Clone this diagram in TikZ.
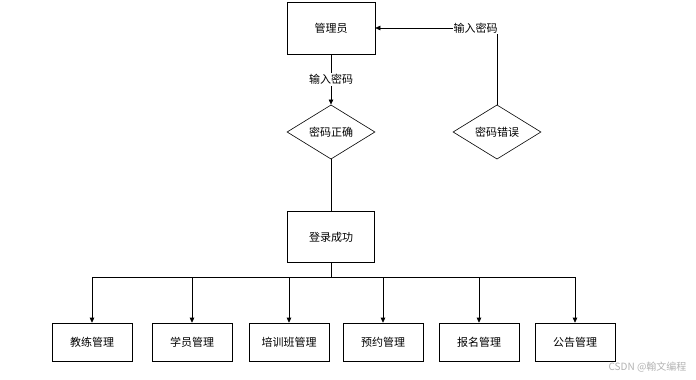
\documentclass[tikz,border=0pt]{standalone}
\usepackage{fontspec}
\newfontfamily\cjk{Noto Sans CJK SC}
\usetikzlibrary{shapes.geometric,arrows.meta,positioning}

\begin{document}
\begin{tikzpicture}[x=1pt, y=-1pt,
    font=\cjk\fontsize{11}{13}\selectfont,
    block/.style={rectangle, draw, line width=0.6pt, minimum width=88pt, minimum height=52pt},
    item/.style={rectangle, draw, line width=0.6pt, minimum width=80pt, minimum height=38pt},
    check/.style={diamond, draw, line width=0.6pt, inner sep=0pt, minimum width=88pt, minimum height=50pt},
    arrow/.style={-{Triangle[length=5pt, width=4.5pt]}, line width=0.6pt},
    lbl/.style={fill=white, inner sep=1pt}
]
\useasboundingbox (0,0) rectangle (696,380);

% login flow
\node[block] (admin) at (331,28) {管理员};
\node[check] (ok) at (331,132) {密码正确};
\node[check] (err) at (497,132) {密码错误};
\node[block, minimum width=87pt, minimum height=51pt] (login) at (331,237) {登录成功};

\draw[arrow] (admin) -- (ok) node[midway, lbl]{输入密码};
\draw[line width=0.6pt] (ok) -- (login);
\draw[arrow] (err.north) |- (admin.east) node[pos=0.5, lbl, anchor=east, xshift=2pt]{输入密码};

% management modules
\node[item] (coach) at (92,342) {教练管理};
\node[item] (student) at (192,342) {学员管理};
\node[item] (training) at (289,342) {培训班管理};
\node[item] (booking) at (383,342) {预约管理};
\node[item] (signup) at (479,342) {报名管理};
\node[item] (notice) at (575,342) {公告管理};

\coordinate (bus) at (331,277);
\draw[line width=0.6pt] (login) -- (bus);
\draw[arrow] (bus) -| (coach.north);
\draw[arrow] (bus) -| (student.north);
\draw[arrow] (bus) -| (training.north);
\draw[arrow] (bus) -| (booking.north);
\draw[arrow] (bus) -| (signup.north);
\draw[arrow] (bus) -| (notice.north);

\node[text=black!30, font=\cjk\fontsize{10}{11}\selectfont, anchor=east] (mark) at (690,367) {CSDN @翰文编程};

\end{tikzpicture}
\end{document}
